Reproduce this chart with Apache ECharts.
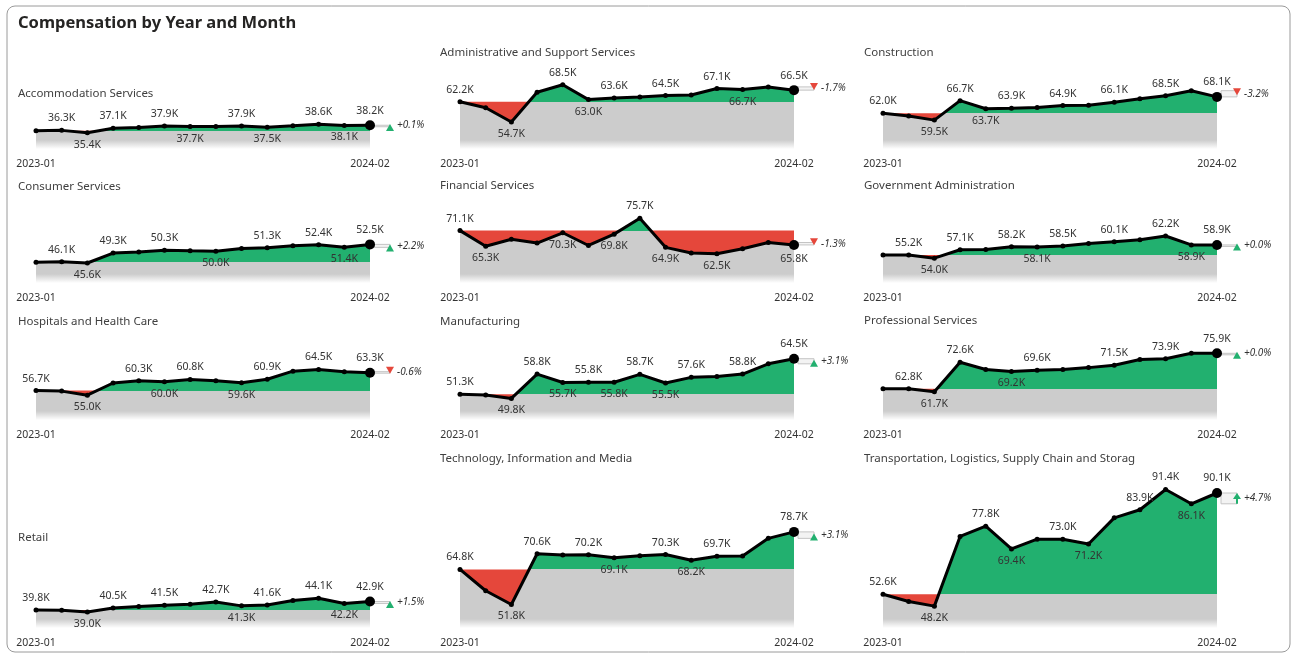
<!DOCTYPE html>
<html>
<head>
<meta charset="utf-8">
<title>Compensation by Year and Month</title>
<script src="https://cdn.jsdelivr.net/npm/echarts@6/dist/echarts.min.js"></script>
<style>
  html, body { margin: 0; padding: 0; background: #fff; }
  #chart { width: 1297px; height: 658px; }
</style>
</head>
<body>
<div id="chart"></div>
<script>
// ─────────────────────────────────────────
// DATA (thousands)
// ─────────────────────────────────────────
const months = ['2023-01', '2023-02', '2023-03', '2023-04', '2023-05', '2023-06', '2023-07',
  '2023-08', '2023-09', '2023-10', '2023-11', '2023-12', '2024-01', '2024-02']

const industries = [
  'Accommodation Services', 'Administrative and Support Services', 'Construction',
  'Consumer Services', 'Financial Services', 'Government Administration',
  'Hospitals and Health Care', 'Manufacturing', 'Professional Services',
  'Retail', 'Technology, Information and Media', 'Transportation, Logistics, Supply Chain and Storag'
]

const accommodation = [36.2, 36.3, 35.4, 37.1, 37.4, 37.9, 37.7, 37.7, 37.9, 37.5, 38.0, 38.6, 38.1, 38.2]
const administrative = [62.2, 60.0, 54.7, 65.7, 68.5, 63.0, 63.6, 64.0, 64.5, 64.7, 67.1, 66.7, 67.7, 66.5]
const construction = [62.0, 61.0, 59.5, 66.7, 63.7, 63.9, 64.2, 64.9, 65.0, 66.1, 67.4, 68.5, 70.4, 68.1]
const consumer = [45.9, 46.1, 45.6, 49.3, 49.7, 50.3, 50.1, 50.0, 51.0, 51.3, 52.0, 52.4, 51.4, 52.5]
const financial = [71.1, 65.3, 67.9, 66.5, 70.3, 65.6, 69.8, 75.7, 64.9, 62.8, 62.5, 64.4, 66.7, 65.8]
const government = [55.2, 55.2, 54.0, 57.1, 57.2, 58.2, 58.1, 58.5, 59.4, 60.1, 60.8, 62.2, 58.9, 58.9]
const hospitals = [56.7, 56.5, 55.0, 59.5, 60.3, 60.0, 60.8, 60.3, 59.6, 60.9, 63.9, 64.5, 63.7, 63.3]
const manufacturing = [51.3, 51.1, 49.8, 58.8, 55.7, 55.8, 55.8, 58.7, 55.5, 57.6, 57.9, 58.8, 62.6, 64.5]
const professional = [62.8, 62.8, 61.7, 72.6, 69.9, 69.2, 69.6, 69.9, 70.6, 71.5, 73.6, 73.9, 75.9, 75.9]
const retail = [39.8, 39.7, 39.0, 40.5, 41.1, 41.5, 41.9, 42.7, 41.3, 41.6, 43.3, 44.1, 42.2, 42.9]
const technology = [64.8, 56.9, 51.8, 70.6, 70.1, 70.2, 69.1, 69.9, 70.3, 68.2, 69.7, 69.8, 76.3, 78.7]
const transportation = [52.6, 49.9, 48.2, 74.0, 77.8, 69.4, 73.0, 73.0, 71.2, 80.9, 83.9, 91.4, 86.1, 90.1]

// month-over-month change shown at the end of each line (%)
const changePct = [0.1, -1.7, -3.2, 2.2, -1.3, 0.0, -0.6, 3.1, 0.0, 1.5, 3.1, 4.7]

const series = [accommodation, administrative, construction, consumer, financial, government,
  hospitals, manufacturing, professional, retail, technology, transportation]

// ─────────────────────────────────────────
// LAYOUT / STYLE
// ─────────────────────────────────────────
// label placement per point: t = above, b = below, - = hidden
const labelAt = [
  '-tbt-tb-tb-tbt', 't-b-tbt-t-tb-t', 't-btbt-t-t-t-t',
  '-tbt-t-b-t-tbt', 'tb--b-btb-b--b', '-tbt-tbt-t-tbt',
  't-b-tbt-bt-t-t', 't-btbtbtbt-t-t', '-tbt-bt--t-t-t',
  't-bt-t-tbt-tbt', 't-bt-tb-tbt--t', 't-b-tb-tb-ttbt'
]
// value at the bottom edge of each panel
const yFloor = [29.4, 44.7, 48.8, 38.2, 51.7, 44.8, 45.8, 41.8, 51.2, 33.1, 43.1, 40.1]
const titleY = [93, 52, 52, 186, 185, 185, 321, 321, 320, 537, 458, 458]

const COL_X = [36, 460, 883]
const TITLE_X = [18, 440, 864]
const PLOT_W = 334
const ROW_TOP = [60, 195, 330, 470]
const ROW_BOTTOM = [149, 283, 420, 628]
const PX_PER_K = 2.7
const FADE_PX = 9

const GREEN = '#22B06F'
const RED = '#E5473B'
const GRAY = '#CCCCCC'
const FONT = '"Noto Sans", "Open Sans", sans-serif'

// ─────────────────────────────────────────
// BUILD OPTION
// ─────────────────────────────────────────
const grid = []
const xAxis = []
const yAxis = []
const seriesList = []
const title = [{
  text: 'Compensation by Year and Month',
  left: 18, top: 15, padding: 0,
  textStyle: { fontSize: 16.5, fontWeight: 'bold', color: '#252423', fontFamily: FONT }
}]

series.forEach((vals, k) => {
  const col = k % 3
  const row = Math.floor(k / 3)
  const top = ROW_TOP[row]
  const height = ROW_BOTTOM[row] - top
  const base = vals[0]
  const floor = yFloor[k]
  const last = vals[vals.length - 1]
  const prev = vals[vals.length - 2]
  const peak = Math.max(...vals)

  grid.push({ left: COL_X[col], top, width: PLOT_W, height })

  xAxis.push({
    type: 'category', gridIndex: k, data: months, boundaryGap: false,
    axisLine: { show: false }, axisTick: { show: false }, splitLine: { show: false },
    axisLabel: {
      interval: (i) => i === 0 || i === months.length - 1,
      color: '#333', fontSize: 10.5, fontFamily: FONT, margin: 10
    }
  })

  yAxis.push({
    type: 'value', gridIndex: k, show: false,
    min: floor, max: floor + height / PX_PER_K
  })

  title.push({
    text: industries[k], left: TITLE_X[col], top: titleY[k] - 5, padding: 0,
    textStyle: { fontSize: 11.5, fontWeight: 'normal', color: '#404040', fontFamily: FONT }
  })

  const common = { xAxisIndex: k, yAxisIndex: k, silent: true, symbol: 'none' }

  // red band: from floor to the first month's level
  seriesList.push({
    ...common, type: 'line', data: vals.map(() => base),
    lineStyle: { width: 0 },
    areaStyle: { color: RED, opacity: 1, origin: 'start' }
  })

  // area under the line: green above the first month's level, gray below
  const split = peak > base ? (peak - base) / (peak - floor) : 0
  seriesList.push({
    ...common, type: 'line', data: vals,
    lineStyle: { width: 0 },
    areaStyle: {
      opacity: 1, origin: 'start',
      color: {
        type: 'linear', x: 0, y: 0, x2: 0, y2: 1,
        colorStops: [
          { offset: 0, color: GREEN }, { offset: split, color: GREEN },
          { offset: split, color: GRAY }, { offset: 1, color: GRAY }
        ]
      }
    }
  })

  // soft fade at the bottom edge
  seriesList.push({
    ...common, type: 'line', data: vals.map(() => floor + FADE_PX / PX_PER_K),
    lineStyle: { width: 0 },
    areaStyle: {
      origin: 'start', opacity: 1,
      color: {
        type: 'linear', x: 0, y: 0, x2: 0, y2: 1,
        colorStops: [{ offset: 0, color: 'rgba(255,255,255,0)' }, { offset: 1, color: '#fff' }]
      }
    }
  })

  // black line with labels
  seriesList.push({
    type: 'line', xAxisIndex: k, yAxisIndex: k, silent: true, clip: false,
    symbol: 'circle', itemStyle: { color: '#000' },
    lineStyle: { color: '#000', width: 3 },
    label: {
      show: false, color: '#333', fontSize: 10.5, fontFamily: FONT, distance: 4,
      formatter: (p) => p.value.toFixed(1) + 'K'
    },
    data: vals.map((v, i) => {
      const pos = labelAt[k][i]
      return {
        value: v,
        symbolSize: i === vals.length - 1 ? 10 : 5,
        label: pos === '-' ? { show: false } : { show: true, position: pos === 't' ? 'top' : 'bottom' }
      }
    })
  })

  // month-over-month indicator
  const pct = changePct[k]
  seriesList.push({
    type: 'custom', xAxisIndex: k, yAxisIndex: k, silent: true, clip: false,
    data: [[months.length - 1, last, prev]],
    renderItem: (params, api) => {
      const pLast = api.coord([api.value(0), api.value(1)])
      const pPrev = api.coord([api.value(0), api.value(2)])
      const up = pct >= 0
      const color = up ? GREEN : RED
      const x = pLast[0] + 4
      const yT = Math.min(pLast[1], pPrev[1])
      const yB = Math.max(pLast[1], pPrev[1])
      const mid = (yT + yB) / 2
      const children = [{
        type: 'rect',
        shape: { x, y: yT, width: 16, height: Math.max(yB - yT, 1.5) },
        style: { fill: 'rgba(235,235,235,0.6)', stroke: '#c4c4c4', lineWidth: 1 }
      }]
      const ax = pLast[0] + 20
      if (yB - yT > 10) {
        children.push({
          type: 'line', shape: { x1: ax, y1: pPrev[1], x2: ax, y2: pLast[1] + (up ? 4 : -4) },
          style: { stroke: color, lineWidth: 2 }
        })
        const ty = pLast[1]
        children.push({
          type: 'polygon',
          shape: { points: up ? [[ax - 4, ty + 6], [ax + 4, ty + 6], [ax, ty]] : [[ax - 4, ty - 6], [ax + 4, ty - 6], [ax, ty]] },
          style: { fill: color }
        })
      } else {
        const cy = mid + (up ? 2.5 : -2.5)
        children.push({
          type: 'polygon',
          shape: { points: up ? [[ax - 4, cy + 3], [ax + 4, cy + 3], [ax, cy - 4]] : [[ax - 4, cy - 3], [ax + 4, cy - 3], [ax, cy + 4]] },
          style: { fill: color }
        })
      }
      children.push({
        type: 'text',
        style: {
          text: (pct >= 0 ? '+' : '') + pct.toFixed(1) + '%',
          x: pLast[0] + 27, y: mid, verticalAlign: 'middle',
          fill: '#333', fontSize: 10, fontStyle: 'italic', fontFamily: FONT
        }
      })
      return { type: 'group', children }
    }
  })
})

const chart = echarts.init(document.getElementById('chart'))
chart.setOption({
  animation: false,
  backgroundColor: '#fff',
  textStyle: { fontFamily: FONT },
  title,
  grid,
  xAxis,
  yAxis,
  series: seriesList,
  graphic: [{
    type: 'rect', silent: true, z: -1,
    shape: { x: 7, y: 6, width: 1283, height: 646, r: 8 },
    style: { fill: 'none', stroke: '#9a9a9a', lineWidth: 1 }
  }]
})
</script>
</body>
</html>
